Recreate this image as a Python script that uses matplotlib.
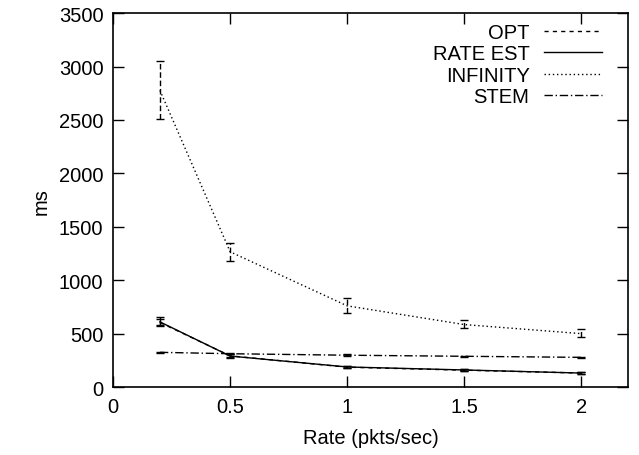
import matplotlib
matplotlib.use("Agg")
import matplotlib.pyplot as plt
from matplotlib.lines import Line2D

rates = [0.2, 0.5, 1.0, 1.5, 2.0]

opt = [605, 292, 186, 158, 131]
opt_lo = [580, 280, 178, 150, 124]
opt_hi = [640, 305, 195, 166, 139]

rate_est = [610, 290, 188, 160, 131]
rate_lo = [570, 276, 178, 150, 122]
rate_hi = [660, 305, 198, 170, 140]

infinity = [2777, 1266, 760, 585, 500]
inf_lo = [2505, 1180, 690, 550, 465]
inf_hi = [3050, 1350, 830, 625, 540]

stem = [325, 312, 298, 288, 278]
stem_lo = [318, 305, 291, 281, 271]
stem_hi = [332, 319, 305, 295, 285]

xticks = [0, 0.5, 1, 1.5, 2]
yticks = [0, 500, 1000, 1500, 2000, 2500, 3000, 3500]

plt.rcParams['font.family'] = ['Liberation Sans', 'DejaVu Sans']

fig = plt.figure(figsize=(6.39, 4.56), dpi=100)
ax = fig.add_axes([0.177, 0.149, 0.806, 0.82])

def errs(v, lo, hi):
    return [[a - b for a, b in zip(v, lo)], [c - a for a, c in zip(v, hi)]]

lw = 1.0
styles = {
    'OPT': (0, (3, 3)),
    'RATE EST': '-',
    'INFINITY': (0, (1, 2)),
    'STEM': (0, (6, 2, 1, 2)),
}
e = ax.errorbar(rates, opt, yerr=errs(opt, opt_lo, opt_hi), color='black', lw=lw,
                ls=styles['OPT'], capsize=3, elinewidth=lw)
e[2][0].set_linestyle((0, (3, 3)))
ax.errorbar(rates, rate_est, yerr=errs(rate_est, rate_lo, rate_hi), color='black', lw=lw,
            ls=styles['RATE EST'], capsize=3, elinewidth=lw)
e = ax.errorbar(rates, infinity, yerr=errs(infinity, inf_lo, inf_hi), color='black', lw=lw,
                ls=styles['INFINITY'], capsize=3, elinewidth=lw)
e[2][0].set_linestyle((0, (4, 2)))
ax.errorbar(rates, stem, yerr=errs(stem, stem_lo, stem_hi), color='black', lw=lw,
            ls=styles['STEM'], capsize=3, elinewidth=lw)

ax.set_xlim(0, 2.2)
ax.set_ylim(0, 3500)
ax.set_xticks(xticks)
ax.set_xticklabels(['0', '0.5', '1', '1.5', '2'])
ax.set_yticks(yticks)
ax.tick_params(direction='in', top=True, right=True, length=8, width=1, labelsize=14.5, pad=7)
for s in ax.spines.values():
    s.set_linewidth(1.2)
ax.set_xlabel('Rate (pkts/sec)', fontsize=14.5, labelpad=9)
ax.set_ylabel('ms', fontsize=14.5, labelpad=6)

handles = [Line2D([], [], color='black', lw=lw, ls=styles[k]) for k in styles]
leg = fig.legend(handles, list(styles.keys()), loc='upper right',
                 bbox_to_anchor=(602 / 639, 1 - 24 / 456), bbox_transform=fig.transFigure,
                 frameon=False, markerfirst=False, fontsize=14.5,
                 handlelength=2.9, labelspacing=0.12, borderpad=0, borderaxespad=0,
                 handletextpad=0.7)
for t in leg.get_texts():
    t.set_ha('right')
leg._legend_box.align = 'right'

fig.savefig('out.png', dpi=100)
